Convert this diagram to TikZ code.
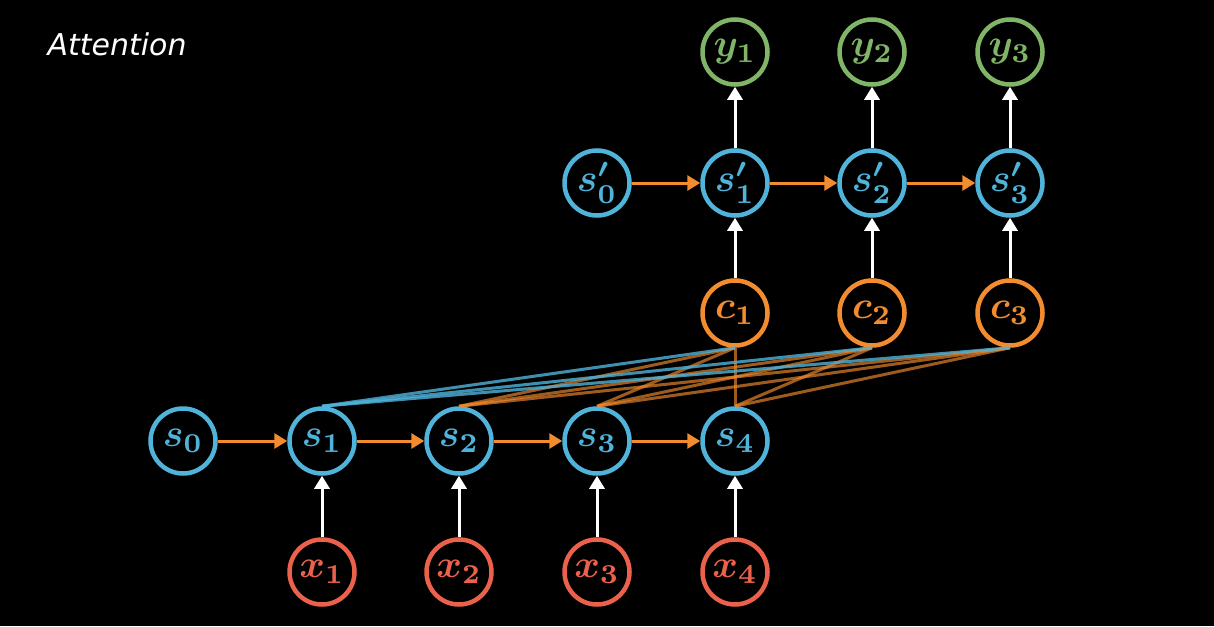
\documentclass[tikz,border=0pt]{standalone}
\usepackage{graphicx}
\usepackage{fontspec}
\newfontfamily\titlefont{DejaVu Sans}
\usetikzlibrary{arrows.meta}
\definecolor{cblue}{HTML}{4FB3DA}
\definecolor{corange}{HTML}{F28C2E}
\definecolor{cgreen}{HTML}{80B466}
\definecolor{cred}{HTML}{EC614C}
\newcommand{\lbl}[1]{\scalebox{3.9}{\boldmath$#1$}}
\begin{document}
\begin{tikzpicture}[x=1pt,y=-1pt,
  nd/.style={circle,line width=4.5pt,minimum size=65pt,inner sep=0pt},
  bn/.style={nd,draw=cblue,text=cblue},
  on/.style={nd,draw=corange,text=corange},
  gn/.style={nd,draw=cgreen,text=cgreen},
  rn/.style={nd,draw=cred,text=cred},
  warr/.style={draw=white,line width=3pt,-{Triangle[length=13pt,width=15pt]}},
  oarr/.style={draw=corange,line width=3pt,-{Triangle[length=13pt,width=15pt]}},
  attb/.style={draw=cblue,line width=3pt,opacity=0.8},
  atto/.style={draw=corange,line width=3pt,opacity=0.65}]
\fill[black] (0,0) rectangle (1214,626);
\useasboundingbox (0,0) rectangle (1214,626);
\node[anchor=west,text=white,font=\titlefont\itshape\fontsize{30}{34}\selectfont] (title) at (44,44) {Attention};
% encoder
\node[bn] (s0) at (183,441) {\lbl{s_0}};
\node[bn] (s1) at (322,441) {\lbl{s_1}};
\node[bn] (s2) at (459,441) {\lbl{s_2}};
\node[bn] (s3) at (597,441) {\lbl{s_3}};
\node[bn] (s4) at (735,441) {\lbl{s_4}};
\node[rn] (x1) at (322,572) {\lbl{x_1}};
\node[rn] (x2) at (459,572) {\lbl{x_2}};
\node[rn] (x3) at (597,572) {\lbl{x_3}};
\node[rn] (x4) at (735,572) {\lbl{x_4}};
% decoder
\node[bn] (t0) at (597,183) {\lbl{s'_0}};
\node[bn] (t1) at (735,183) {\lbl{s'_1}};
\node[bn] (t2) at (872,183) {\lbl{s'_2}};
\node[bn] (t3) at (1010,183) {\lbl{s'_3}};
\node[on] (c1) at (735,313) {\lbl{c_1}};
\node[on] (c2) at (872,313) {\lbl{c_2}};
\node[on] (c3) at (1010,313) {\lbl{c_3}};
\node[gn] (y1) at (735,52) {\lbl{y_1}};
\node[gn] (y2) at (872,52) {\lbl{y_2}};
\node[gn] (y3) at (1010,52) {\lbl{y_3}};
% attention lines
\foreach \c in {c1,c2,c3}{
  \foreach \s in {s2,s3,s4}{\draw[atto] (\c.south) -- (\s.north);}
}
\foreach \c in {c1,c2,c3}{\draw[attb] (\c.south) -- (s1.north);}
% arrows
\draw[oarr] (s0) -- (s1);
\draw[oarr] (s1) -- (s2);
\draw[oarr] (s2) -- (s3);
\draw[oarr] (s3) -- (s4);
\draw[oarr] (t0) -- (t1);
\draw[oarr] (t1) -- (t2);
\draw[oarr] (t2) -- (t3);
\foreach \i in {1,2,3,4}{\draw[warr] (x\i) -- (s\i);}
\draw[warr] (c1) -- (t1);
\draw[warr] (c2) -- (t2);
\draw[warr] (c3) -- (t3);
\draw[warr] (t1) -- (y1);
\draw[warr] (t2) -- (y2);
\draw[warr] (t3) -- (y3);
\end{tikzpicture}
\end{document}
